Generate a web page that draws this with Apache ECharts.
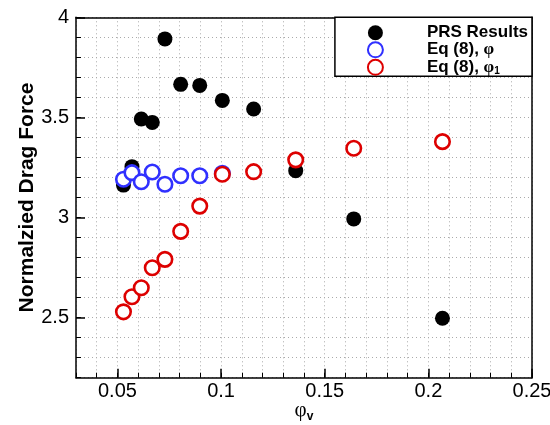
<!DOCTYPE html>
<html>
<head>
<meta charset="utf-8">
<script src="https://cdn.jsdelivr.net/npm/echarts@6/dist/echarts.min.js"></script>
<style>html,body{margin:0;padding:0;background:#fff}#c{width:550px;height:425px}</style>
</head>
<body>
<div id="c"></div>
<script>
// ---- data ----
const phiV = [0.0529, 0.0570, 0.0615, 0.0668, 0.0729, 0.0805, 0.0897, 0.1006, 0.1157, 0.1360, 0.1640, 0.2068];
const prsResults = [3.162, 3.254, 3.492, 3.475, 3.892, 3.665, 3.660, 3.585, 3.542, 3.234, 2.993, 2.497];
const eqPhi = [3.191, 3.224, 3.179, 3.227, 3.166, 3.209, 3.209, 3.221];
const eqPhi1 = [2.529, 2.604, 2.649, 2.749, 2.791, 2.931, 3.057, 3.216, 3.229, 3.288, 3.346, 3.379];
const xTicks = [0.05, 0.1, 0.15, 0.2, 0.25];
const yTicks = [2.5, 3, 3.5, 4];
const seriesNames = ['PRS Results', 'Eq (8), φ', 'Eq (8), φ1'];

const FONT = "'Liberation Sans', Arial, Helvetica, sans-serif";
const pair = (xs, ys) => ys.map((y, i) => [xs[i], y]);

const chart = echarts.init(document.getElementById('c'), null, {renderer: 'canvas'});
const grid = {left: 76, right: 18, top: 17.3, bottom: 47.3, containLabel: false, outerBoundsMode: 'none', show: false};

const minorX = {
  type: 'value', min: 0.03, max: 0.25, interval: 0.01, position: 'bottom',
  axisLine: {show: true, lineStyle: {color: '#000', width: 1.5}},
  axisTick: {show: true, inside: true, length: 5, lineStyle: {color: '#000', width: 1}},
  axisLabel: {show: false},
  splitLine: {show: true, lineStyle: {color: '#aaa', type: [1, 3], width: 1}},
  name: '{a|φ}{b|v}', nameLocation: 'middle', nameGap: 21,
  nameTextStyle: {rich: {
    a: {fontFamily: "'Liberation Serif', 'Times New Roman', serif", fontSize: 21, color: '#000'},
    b: {fontFamily: FONT, fontWeight: 'bold', fontSize: 12, color: '#000', padding: [12, 0, 0, 0]}
  }}
};
const majorX = {
  type: 'value', min: 0.03, max: 0.25, interval: 0.01, position: 'bottom',
  axisLine: {show: false},
  axisTick: {show: true, inside: true, length: 9, customValues: xTicks, lineStyle: {color: '#000', width: 1.5}},
  axisLabel: {show: true, customValues: xTicks, margin: 4, fontFamily: FONT, fontSize: 20, color: '#000'},
  splitLine: {show: false}
};
const topX = {
  type: 'value', min: 0.03, max: 0.25, position: 'top',
  axisLine: {show: true, lineStyle: {color: '#000', width: 1.5}},
  axisTick: {show: false}, axisLabel: {show: false}, splitLine: {show: false}
};
const minorY = {
  type: 'value', min: 2.2, max: 4, interval: 0.1, position: 'left',
  axisLine: {show: true, lineStyle: {color: '#000', width: 1.5}},
  axisTick: {show: true, inside: true, length: 5, lineStyle: {color: '#000', width: 1}},
  axisLabel: {show: false},
  splitLine: {show: true, lineStyle: {color: '#aaa', type: [1, 3], width: 1}},
  name: 'Normalzied Drag Force', nameLocation: 'middle', nameGap: 38,
  nameTextStyle: {fontFamily: FONT, fontWeight: 'bold', fontSize: 21, color: '#000'}
};
const majorY = {
  type: 'value', min: 2.2, max: 4, interval: 0.1, position: 'left',
  axisLine: {show: false},
  axisTick: {show: true, inside: true, length: 9, customValues: yTicks, lineStyle: {color: '#000', width: 1.5}},
  axisLabel: {show: true, customValues: yTicks, margin: 7, fontFamily: FONT, fontSize: 20, color: '#000'},
  splitLine: {show: false}
};
const rightY = {
  type: 'value', min: 2.2, max: 4, position: 'right',
  axisLine: {show: true, lineStyle: {color: '#000', width: 1.5}},
  axisTick: {show: false}, axisLabel: {show: false}, splitLine: {show: false}
};

const legendRich = {
  p: {fontFamily: FONT, fontWeight: 'bold', fontSize: 17, color: '#000', padding: [0, 0, 0, 39], lineHeight: 18},
  q: {fontFamily: FONT, fontWeight: 'bold', fontSize: 17, color: '#000', lineHeight: 18},
  s: {fontFamily: "'Liberation Serif', 'Times New Roman', serif", fontSize: 17, color: '#000', lineHeight: 18},
  sub: {fontFamily: FONT, fontWeight: 'bold', fontSize: 10, color: '#000', padding: [8, 0, 0, 0], lineHeight: 18}
};

const option = {
  backgroundColor: '#fff',
  animation: false,
  grid: grid,
  xAxis: [minorX, majorX, topX],
  yAxis: [minorY, majorY, rightY],
  legend: {
    orient: 'vertical', right: 18, top: 17.3,
    itemWidth: 15, itemHeight: 15, itemGap: 0,
    padding: [7, 4, 0, 32],
    borderColor: '#000', borderWidth: 1.5, borderRadius: 0, backgroundColor: '#fff',
    textStyle: {fontFamily: FONT, fontWeight: 'bold', fontSize: 17, color: '#000', rich: legendRich},
    formatter: function (name) {
      if (name === seriesNames[0]) return '{p|PRS Results}';
      if (name === seriesNames[1]) return '{p|Eq (8), }{s|φ}';
      return '{p|Eq (8), }{s|φ}{sub|1}';
    },
    data: seriesNames
  },
  series: [
    {
      name: seriesNames[0], type: 'scatter', xAxisIndex: 0, yAxisIndex: 0,
      symbol: 'circle', symbolSize: 15, z: 2,
      itemStyle: {color: '#000', opacity: 1},
      data: pair(phiV, prsResults)
    },
    {
      name: seriesNames[1], type: 'scatter', xAxisIndex: 0, yAxisIndex: 0,
      symbol: 'circle', symbolSize: 14.5, z: 3,
      itemStyle: {color: '#fff', borderColor: '#3030ff', borderWidth: 2.6, opacity: 1},
      data: pair(phiV, eqPhi)
    },
    {
      name: seriesNames[2], type: 'scatter', xAxisIndex: 0, yAxisIndex: 0,
      symbol: 'circle', symbolSize: 14.5, z: 4,
      itemStyle: {color: '#fff', borderColor: '#dd0000', borderWidth: 2.6, opacity: 1},
      data: pair(phiV, eqPhi1)
    }
  ]
};
chart.setOption(option);
</script>
</body>
</html>
